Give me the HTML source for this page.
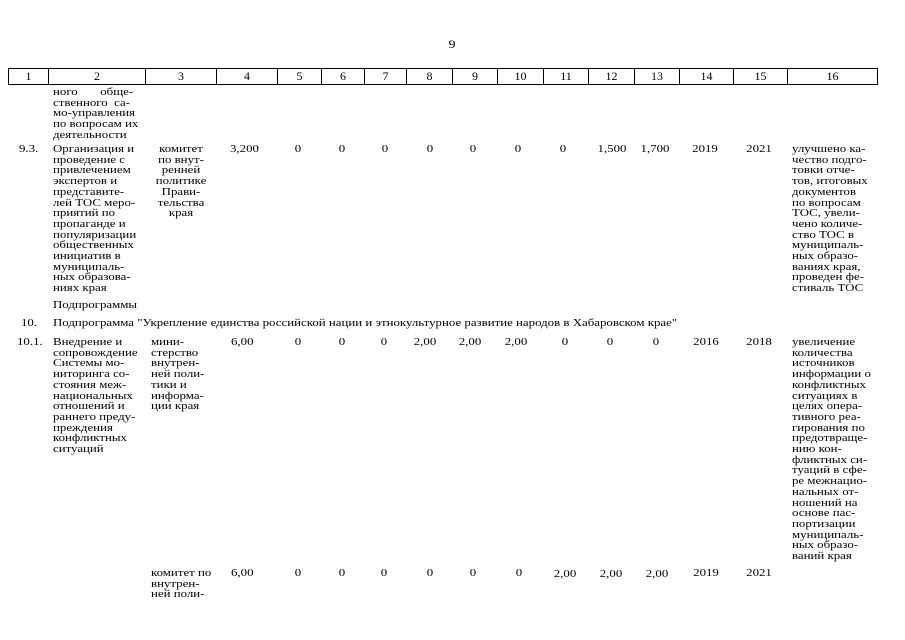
<!DOCTYPE html>
<html><head><meta charset="utf-8"><style>
body{margin:0;background:#fff;}
#p{position:relative;width:905px;height:640px;overflow:hidden;font-family:"Liberation Serif","DejaVu Serif",serif;font-size:11px;color:#000;}
.a{position:absolute;white-space:nowrap;line-height:10.7px;transform:scaleX(1.17);transform-origin:0 0;}
.c{position:absolute;white-space:nowrap;line-height:10.7px;transform:translateX(-50%) scaleX(1.17);text-align:center;}
.cc{position:absolute;white-space:nowrap;line-height:10.7px;transform:translateX(-50%) scaleX(1.17);text-align:center;}
table{position:absolute;left:8px;top:68px;border-collapse:collapse;}
td{border:1px solid #000;height:15px;padding:0;text-align:center;font-size:12px;line-height:15px;}
</style></head><body><div id="p">
<div class="c" style="left:452px;top:39px;font-size:12px">9</div>
<table><tr>
<td style="width:39px">1</td><td style="width:96px">2</td><td style="width:70px">3</td><td style="width:60px">4</td><td style="width:43px">5</td><td style="width:42px">6</td><td style="width:41px">7</td><td style="width:45px">8</td><td style="width:44px">9</td><td style="width:45px">10</td><td style="width:44px">11</td><td style="width:45px">12</td><td style="width:44px">13</td><td style="width:53px">14</td><td style="width:53px">15</td><td style="width:89px">16</td>
</tr></table>

<div class="a" style="left:53px;top:87px">ного&nbsp;&nbsp;&nbsp;&nbsp;&nbsp;&nbsp;&nbsp;обще-<br>ственного&nbsp;&nbsp;са-<br>мо-управления<br>по вопросам их<br>деятельности</div>

<div class="a" style="left:19px;top:144px">9.3.</div>
<div class="a" style="left:53px;top:144px">Организация и<br>проведение с<br>привлечением<br>экспертов и<br>представите-<br>лей ТОС меро-<br>приятий по<br>пропаганде и<br>популяризации<br>общественных<br>инициатив в<br>муниципаль-<br>ных образова-<br>ниях края</div>
<div class="cc" style="left:181px;top:144px">комитет<br>по внут-<br>ренней<br>политике<br>Прави-<br>тельства<br>края</div>
<div class="a" style="left:230px;top:144px">3,200</div>
<div class="c" style="left:298px;top:144px">0</div>
<div class="c" style="left:342px;top:144px">0</div>
<div class="c" style="left:385px;top:144px">0</div>
<div class="c" style="left:430px;top:144px">0</div>
<div class="c" style="left:473px;top:144px">0</div>
<div class="c" style="left:518px;top:144px">0</div>
<div class="c" style="left:563px;top:144px">0</div>
<div class="c" style="left:612px;top:144px">1,500</div>
<div class="c" style="left:655px;top:144px">1,700</div>
<div class="c" style="left:705px;top:144px">2019</div>
<div class="c" style="left:759px;top:144px">2021</div>
<div class="a" style="left:792px;top:144px">улучшено ка-<br>чество подго-<br>товки отче-<br>тов, итоговых<br>документов<br>по вопросам<br>ТОС, увели-<br>чено количе-<br>ство ТОС в<br>муниципаль-<br>ных образо-<br>ваниях края,<br>проведен фе-<br>стиваль ТОС</div>

<div class="a" style="left:53px;top:300px">Подпрограммы</div>
<div class="a" style="left:21px;top:318px">10.</div>
<div class="a" style="left:53px;top:318px">Подпрограмма "Укрепление единства российской нации и этнокультурное развитие народов в Хабаровском крае"</div>

<div class="a" style="left:17px;top:337px">10.1.</div>
<div class="a" style="left:53px;top:337px">Внедрение и<br>сопровождение<br>Системы мо-<br>ниторинга со-<br>стояния меж-<br>национальных<br>отношений и<br>раннего преду-<br>преждения<br>конфликтных<br>ситуаций</div>
<div class="a" style="left:151px;top:337px">мини-<br>стерство<br>внутрен-<br>ней поли-<br>тики и<br>информа-<br>ции края</div>
<div class="a" style="left:231px;top:337px">6,00</div>
<div class="c" style="left:298px;top:337px">0</div>
<div class="c" style="left:342px;top:337px">0</div>
<div class="c" style="left:384px;top:337px">0</div>
<div class="c" style="left:425px;top:337px">2,00</div>
<div class="c" style="left:470px;top:337px">2,00</div>
<div class="c" style="left:516px;top:337px">2,00</div>
<div class="c" style="left:565px;top:337px">0</div>
<div class="c" style="left:610px;top:337px">0</div>
<div class="c" style="left:656px;top:337px">0</div>
<div class="c" style="left:706px;top:337px">2016</div>
<div class="c" style="left:759px;top:337px">2018</div>
<div class="a" style="left:792px;top:337px">увеличение<br>количества<br>источников<br>информации о<br>конфликтных<br>ситуациях в<br>целях опера-<br>тивного реа-<br>гирования по<br>предотвраще-<br>нию кон-<br>фликтных си-<br>туаций в сфе-<br>ре межнацио-<br>нальных от-<br>ношений на<br>основе пас-<br>портизации<br>муниципаль-<br>ных образо-<br>ваний края</div>

<div class="a" style="left:151px;top:568px">комитет по<br>внутрен-<br>ней поли-</div>
<div class="a" style="left:231px;top:568px">6,00</div>
<div class="c" style="left:298px;top:568px">0</div>
<div class="c" style="left:342px;top:568px">0</div>
<div class="c" style="left:384px;top:568px">0</div>
<div class="c" style="left:430px;top:568px">0</div>
<div class="c" style="left:473px;top:568px">0</div>
<div class="c" style="left:519px;top:568px">0</div>
<div class="c" style="left:565px;top:569px">2,00</div>
<div class="c" style="left:611px;top:569px">2,00</div>
<div class="c" style="left:657px;top:569px">2,00</div>
<div class="c" style="left:706px;top:568px">2019</div>
<div class="c" style="left:759px;top:568px">2021</div>
</div></body></html>
